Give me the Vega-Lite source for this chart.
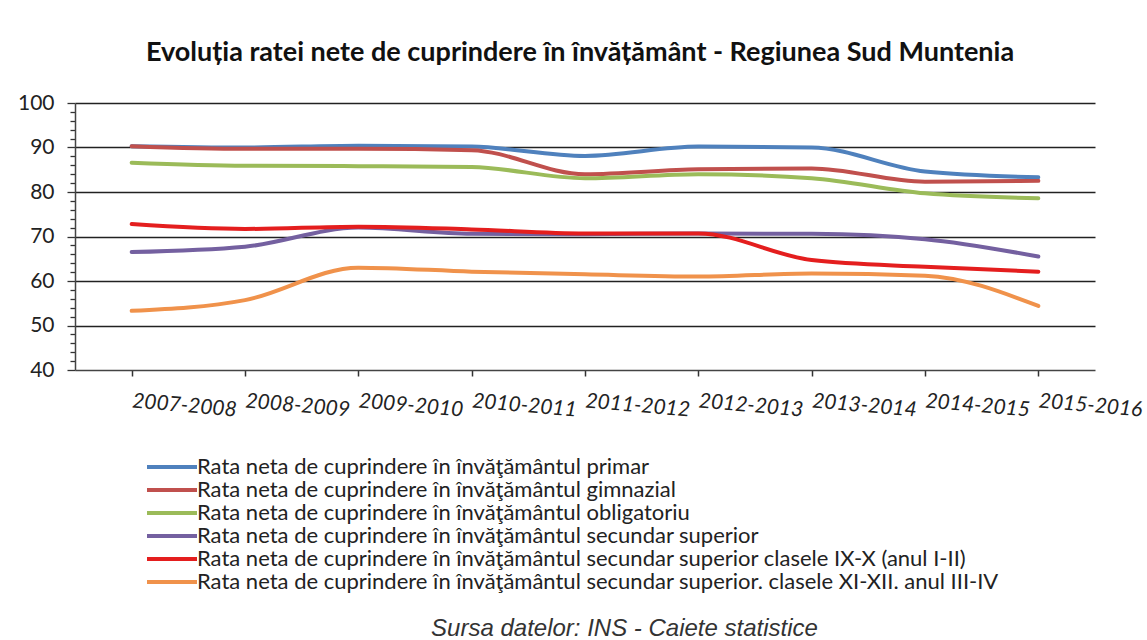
{
  "$schema": "https://vega.github.io/schema/vega-lite/v6.json",
  "autosize": "none",
  "width": 1020,
  "height": 267,
  "padding": {"left": 75, "top": 103, "right": 52, "bottom": 270},
  "background": "white",
  "title": {
    "text": "Evoluția ratei nete de cuprindere în învățământ - Regiunea Sud Muntenia",
    "font": "Lato",
    "fontSize": 27,
    "fontWeight": "bold",
    "color": "#111",
    "anchor": "middle",
    "dx": -5,
    "offset": 25
  },
  "data": {
    "values": [
      {"an": "2007-2008", "serie": "primar", "v": 90.3},
      {"an": "2008-2009", "serie": "primar", "v": 90.0},
      {"an": "2009-2010", "serie": "primar", "v": 90.4},
      {"an": "2010-2011", "serie": "primar", "v": 90.2},
      {"an": "2011-2012", "serie": "primar", "v": 88.1},
      {"an": "2012-2013", "serie": "primar", "v": 90.2},
      {"an": "2013-2014", "serie": "primar", "v": 90.0},
      {"an": "2014-2015", "serie": "primar", "v": 84.6},
      {"an": "2015-2016", "serie": "primar", "v": 83.3},
      {"an": "2007-2008", "serie": "gimnazial", "v": 90.3},
      {"an": "2008-2009", "serie": "gimnazial", "v": 89.7},
      {"an": "2009-2010", "serie": "gimnazial", "v": 89.7},
      {"an": "2010-2011", "serie": "gimnazial", "v": 89.4},
      {"an": "2011-2012", "serie": "gimnazial", "v": 84.0},
      {"an": "2012-2013", "serie": "gimnazial", "v": 85.1},
      {"an": "2013-2014", "serie": "gimnazial", "v": 85.3},
      {"an": "2014-2015", "serie": "gimnazial", "v": 82.3},
      {"an": "2015-2016", "serie": "gimnazial", "v": 82.5},
      {"an": "2007-2008", "serie": "obligatoriu", "v": 86.6},
      {"an": "2008-2009", "serie": "obligatoriu", "v": 85.9},
      {"an": "2009-2010", "serie": "obligatoriu", "v": 85.8},
      {"an": "2010-2011", "serie": "obligatoriu", "v": 85.6},
      {"an": "2011-2012", "serie": "obligatoriu", "v": 83.1},
      {"an": "2012-2013", "serie": "obligatoriu", "v": 84.0},
      {"an": "2013-2014", "serie": "obligatoriu", "v": 83.1},
      {"an": "2014-2015", "serie": "obligatoriu", "v": 79.7},
      {"an": "2015-2016", "serie": "obligatoriu", "v": 78.6},
      {"an": "2007-2008", "serie": "secundar", "v": 66.5},
      {"an": "2008-2009", "serie": "secundar", "v": 67.7},
      {"an": "2009-2010", "serie": "secundar", "v": 72.0},
      {"an": "2010-2011", "serie": "secundar", "v": 70.6},
      {"an": "2011-2012", "serie": "secundar", "v": 70.5},
      {"an": "2012-2013", "serie": "secundar", "v": 70.7},
      {"an": "2013-2014", "serie": "secundar", "v": 70.6},
      {"an": "2014-2015", "serie": "secundar", "v": 69.4},
      {"an": "2015-2016", "serie": "secundar", "v": 65.5},
      {"an": "2007-2008", "serie": "IX-X", "v": 72.8},
      {"an": "2008-2009", "serie": "IX-X", "v": 71.7},
      {"an": "2009-2010", "serie": "IX-X", "v": 72.2},
      {"an": "2010-2011", "serie": "IX-X", "v": 71.6},
      {"an": "2011-2012", "serie": "IX-X", "v": 70.7},
      {"an": "2012-2013", "serie": "IX-X", "v": 70.7},
      {"an": "2013-2014", "serie": "IX-X", "v": 64.7},
      {"an": "2014-2015", "serie": "IX-X", "v": 63.2},
      {"an": "2015-2016", "serie": "IX-X", "v": 62.1},
      {"an": "2007-2008", "serie": "XI-XII", "v": 53.3},
      {"an": "2008-2009", "serie": "XI-XII", "v": 55.7},
      {"an": "2009-2010", "serie": "XI-XII", "v": 63.0},
      {"an": "2010-2011", "serie": "XI-XII", "v": 62.1},
      {"an": "2011-2012", "serie": "XI-XII", "v": 61.5},
      {"an": "2012-2013", "serie": "XI-XII", "v": 61.0},
      {"an": "2013-2014", "serie": "XI-XII", "v": 61.7},
      {"an": "2014-2015", "serie": "XI-XII", "v": 61.2},
      {"an": "2015-2016", "serie": "XI-XII", "v": 54.4}
    ]
  },
  "mark": {"type": "line", "strokeWidth": 4, "interpolate": "monotone", "strokeCap": "round"},
  "encoding": {
    "x": {
      "field": "an",
      "type": "ordinal",
      "sort": null,
      "scale": {"type": "point", "padding": 0.5},
      "axis": {
        "title": "Sursa datelor: INS -  Caiete statistice",
        "titleFont": "Liberation Sans",
        "titleFontStyle": "italic",
        "titleFontWeight": "normal",
        "titleFontSize": 24,
        "titleColor": "#333",
        "titleX": 549,
        "titleY": 265,
        "titleAlign": "center",
        "titleBaseline": "alphabetic",
        "labelFont": "Lato",
        "labelFontStyle": "italic",
        "labelFontSize": 21,
        "labelColor": "#222",
        "labelAngle": 5,
        "labelAlign": "left",
        "labelBaseline": "middle",
        "labelPadding": 25,
        "labelOverlap": false,
        "tickSize": 6,
        "tickColor": "#333",
        "tickWidth": 1.5,
        "domainColor": "#444",
        "domainWidth": 1.5,
        "grid": false
      }
    },
    "y": {
      "field": "v",
      "type": "quantitative",
      "scale": {"domain": [40, 100], "nice": false, "zero": false},
      "axis": {
        "title": null,
        "values": [40, 42, 44, 46, 48, 50, 52, 54, 56, 58, 60, 62, 64, 66, 68, 70, 72, 74, 76, 78, 80, 82, 84, 86, 88, 90, 92, 94, 96, 98, 100],
        "labelExpr": "datum.value % 10 === 0 ? datum.label : ''",
        "labelFont": "Lato",
        "labelFontSize": 21,
        "labelColor": "#222",
        "labelPadding": 13,
        "tickSize": {"condition": {"test": "datum.value % 10 === 0", "value": 8}, "value": 5},
        "tickColor": "#333",
        "tickWidth": 1.3,
        "domainColor": "#444",
        "domainWidth": 1.5,
        "grid": true,
        "gridColor": "#222",
        "gridWidth": 1.5,
        "gridOpacity": {"condition": {"test": "datum.value % 10 === 0 && datum.value > 40", "value": 1}, "value": 0}
      }
    },
    "color": {
      "field": "serie",
      "type": "nominal",
      "scale": {
        "domain": ["primar", "gimnazial", "obligatoriu", "secundar", "IX-X", "XI-XII"],
        "range": ["#4F81BD", "#C0504D", "#9BBB59", "#7460A0", "#E41E1E", "#F0924B"]
      },
      "legend": {
        "title": null,
        "orient": "none",
        "legendX": 70,
        "legendY": 352,
        "symbolType": "M-1,0H4",
        "symbolSize": 400,
        "symbolStrokeWidth": 4,
        "labelFont": "Lato",
        "labelFontSize": 22,
        "labelColor": "#222",
        "labelLimit": 0,
        "labelOffset": 28,
        "rowPadding": -1,
        "labelExpr": "{'primar': 'Rata neta de cuprindere în învăţământul primar', 'gimnazial': 'Rata neta de cuprindere în învăţământul gimnazial', 'obligatoriu': 'Rata neta de cuprindere în învăţământul obligatoriu', 'secundar': 'Rata neta de cuprindere în învăţământul secundar superior', 'IX-X': 'Rata neta de cuprindere în învăţământul secundar superior  clasele IX-X (anul I-II)', 'XI-XII': 'Rata neta de cuprindere în învăţământul secundar superior. clasele XI-XII. anul III-IV'}[datum.label]"
      }
    }
  },
  "config": {
    "view": {"stroke": null}
  }
}
